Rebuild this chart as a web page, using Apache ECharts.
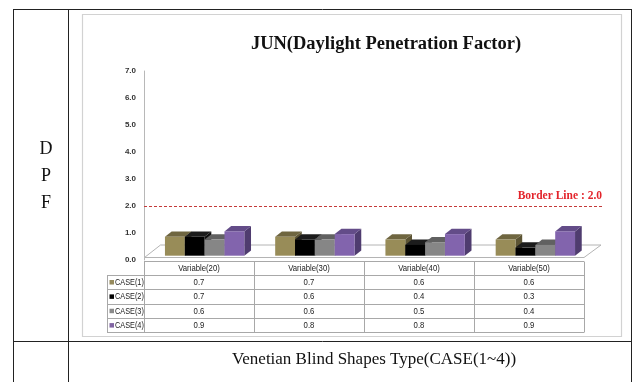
<!DOCTYPE html>
<html>
<head>
<meta charset="utf-8">
<style>
  html, body { margin: 0; padding: 0; background: #fff; }
  #chart { width: 634px; height: 382px; }
</style>
<script src="https://cdn.jsdelivr.net/npm/echarts@6/dist/echarts.min.js"></script>
</head>
<body>
<div id="chart"></div>
<script>
// DPF values for June, per blind shape case and slat variable
const categories = ['Variable(20)', 'Variable(30)', 'Variable(40)', 'Variable(50)'];
const caseNames = ['CASE(1)', 'CASE(2)', 'CASE(3)', 'CASE(4)'];
const case1 = [0.7, 0.7, 0.6, 0.6];
const case2 = [0.7, 0.6, 0.4, 0.3];
const case3 = [0.6, 0.6, 0.5, 0.4];
const case4 = [0.9, 0.8, 0.8, 0.9];
const yTicks = [0, 1, 2, 3, 4, 5, 6, 7];
const borderValue = 2.0;
const titleText = 'JUN(Daylight Penetration Factor)';
const sideLabel = ['D', 'P', 'F'];
const footerText = 'Venetian Blind Shapes Type(CASE(1~4))';

const caseValues = [case1, case2, case3, case4];
// front / top / side shades for the 3D columns
const palette = [
  { front: '#988c58', top: '#6f6640', side: '#5c5434', key: '#968a5c' },
  { front: '#000000', top: '#1c1c1c', side: '#0e0e0e', key: '#000000' },
  { front: '#868686', top: '#616161', side: '#505050', key: '#8a8a8a' },
  { front: '#8264ad', top: '#634c88', side: '#4f3c6f', key: '#8064a2' }
];

const chart = echarts.init(document.getElementById('chart'), null, { renderer: 'canvas' });

const DEPTH_X = 6.7, DEPTH_Y = -5.3, LIFT = 4.3;

function columnRenderer(caseIdx) {
  const col = palette[caseIdx];
  return function (params, api) {
    const i = api.value(0), v = api.value(1);
    const base = api.coord([i, 0]);
    const top = api.coord([i, v]);
    const band = api.size([1, 0])[0];
    const w = band * 0.18;
    const x0 = base[0] - 2 * w + band * 0.05 + caseIdx * w;
    const x1 = x0 + w;
    const yb = base[1] - LIFT, yt = top[1] - LIFT;
    return {
      type: 'group',
      children: [
        { type: 'polygon', shape: { points: [[x1, yb], [x1 + DEPTH_X, yb + DEPTH_Y], [x1 + DEPTH_X, yt + DEPTH_Y], [x1, yt]] }, style: { fill: col.side } },
        { type: 'polygon', shape: { points: [[x0, yt], [x0 + DEPTH_X, yt + DEPTH_Y], [x1 + DEPTH_X, yt + DEPTH_Y], [x1, yt]] }, style: { fill: col.top } },
        { type: 'rect', shape: { x: x0, y: yt, width: w, height: yb - yt }, style: { fill: col.front } }
      ]
    };
  };
}

// condensed cell text (narrow sans look) via horizontal scaling
function cellText(text, x, y, align, size) {
  return {
    type: 'text', x: x, y: y, scaleX: 0.86,
    style: { text: text, x: 0, y: 0, textAlign: align, textVerticalAlign: 'middle', fontFamily: 'Liberation Sans', fontSize: size, fill: '#1a1a1a' }
  };
}

// data table below the plot, built from the same arrays
const TBL_LEFT = 144, COL_W = 110, KEY_LEFT = 107, TBL_TOP = 260.5, ROW_H = 14.35;
const tableGraphics = [];
const lineStyle = { stroke: '#a8a8a8', lineWidth: 1 };
const nRows = caseNames.length + 1;
const tblRight = TBL_LEFT + COL_W * categories.length;
for (let r = 0; r <= nRows; r++) {
  const y = Math.round(TBL_TOP + r * ROW_H) + 0.5;
  tableGraphics.push({ type: 'line', shape: { x1: r === 0 ? TBL_LEFT : KEY_LEFT, y1: y, x2: tblRight, y2: y }, style: lineStyle });
}
const tblBottom = Math.round(TBL_TOP + nRows * ROW_H) + 0.5;
for (let c = 0; c <= categories.length; c++) {
  const x = Math.round(TBL_LEFT + c * COL_W) + 0.5;
  tableGraphics.push({ type: 'line', shape: { x1: x, y1: Math.round(TBL_TOP) + 0.5, x2: x, y2: tblBottom }, style: lineStyle });
}
tableGraphics.push({ type: 'line', shape: { x1: KEY_LEFT + 0.5, y1: Math.round(TBL_TOP + ROW_H) + 0.5, x2: KEY_LEFT + 0.5, y2: tblBottom }, style: lineStyle });
categories.forEach((name, c) => {
  tableGraphics.push(cellText(name, TBL_LEFT + (c + 0.5) * COL_W, TBL_TOP + ROW_H / 2 + 0.5, 'center', 9));
});
caseNames.forEach((name, r) => {
  const yc = TBL_TOP + (r + 1.5) * ROW_H + 0.5;
  tableGraphics.push({ type: 'rect', shape: { x: KEY_LEFT + 2.5, y: yc - 2.5, width: 4.5, height: 4.5 }, style: { fill: palette[r].key } });
  tableGraphics.push(cellText(name, KEY_LEFT + 8, yc, 'left', 8.5));
  caseValues[r].forEach((v, c) => {
    tableGraphics.push(cellText(v.toFixed(1), TBL_LEFT + (c + 0.5) * COL_W, yc, 'center', 9));
  });
});

const frameLine = { stroke: '#222', lineWidth: 1 };
const graphics = [
  // outer document table
  { type: 'line', shape: { x1: 13, y1: 9.5, x2: 632, y2: 9.5 }, style: frameLine },
  { type: 'line', shape: { x1: 13.5, y1: 9, x2: 13.5, y2: 382 }, style: frameLine },
  { type: 'line', shape: { x1: 68.5, y1: 9, x2: 68.5, y2: 382 }, style: frameLine },
  { type: 'line', shape: { x1: 631.5, y1: 9, x2: 631.5, y2: 382 }, style: frameLine },
  { type: 'line', shape: { x1: 13, y1: 341.5, x2: 632, y2: 341.5 }, style: frameLine },
  // chart area border
  { type: 'rect', shape: { x: 82.5, y: 14.5, width: 539, height: 322 }, style: { fill: 'none', stroke: '#d2d2d2', lineWidth: 1.2 } },
  // 3D floor
  { type: 'polygon', z: 0, shape: { points: [[144.5, 257.5], [160.5, 245], [601, 245], [584, 257.5]] }, style: { fill: '#ffffff', stroke: '#b4b4b4', lineWidth: 1 } },
  { type: 'text', style: { text: footerText, x: 374, y: 360, textAlign: 'center', textVerticalAlign: 'middle', fontFamily: 'Liberation Serif', fontSize: 17, fill: '#111' } }
].concat(sideLabel.map((ch, k) => ({
  type: 'text', style: { text: ch, x: 46, y: 149 + k * 27, textAlign: 'center', textVerticalAlign: 'middle', fontFamily: 'Liberation Serif', fontSize: 18, fill: '#111' }
}))).concat(tableGraphics);

const series = caseValues.map((vals, s) => ({
  name: caseNames[s],
  type: 'custom',
  z: 3,
  renderItem: columnRenderer(s),
  encode: { x: 0, y: 1 },
  data: vals.map((v, i) => [i, v])
}));

series.push({
  name: 'Border Line',
  type: 'line',
  data: [],
  markLine: {
    silent: true,
    symbol: ['none', 'arrow'],
    symbolSize: [0, 6],
    lineStyle: { type: [3, 2], color: '#c43a3a', width: 1 },
    label: {
      position: 'insideEndTop',
      distance: [0, 4],
      formatter: 'Border Line : ' + borderValue.toFixed(1),
      fontFamily: 'Liberation Serif',
      fontWeight: 'bold',
      fontSize: 11.5,
      color: '#e3242b'
    },
    data: [{ yAxis: borderValue }]
  }
});

chart.setOption({
  animation: false,
  backgroundColor: '#fff',
  title: {
    text: titleText,
    left: 381,
    top: 30,
    textAlign: 'center',
    textStyle: { fontFamily: 'Liberation Serif', fontWeight: 'bold', fontSize: 18.5, color: '#111' }
  },
  grid: { left: 144, right: 32, top: 71, bottom: 122 },
  xAxis: {
    type: 'value',
    min: -0.5,
    max: categories.length - 0.5 + (601 - 584) / 110,
    show: false
  },
  yAxis: {
    type: 'value',
    min: yTicks[0],
    max: yTicks[yTicks.length - 1],
    interval: 1,
    axisLine: { show: true, onZero: false, lineStyle: { color: '#b8b8b8' } },
    axisTick: { show: false },
    splitLine: { show: false },
    axisLabel: {
      margin: 8,
      fontFamily: 'Liberation Sans',
      fontSize: 8,
      fontWeight: 'bold',
      color: '#333',
      formatter: v => v.toFixed(1)
    }
  },
  graphic: graphics,
  series: series
});
</script>
</body>
</html>
